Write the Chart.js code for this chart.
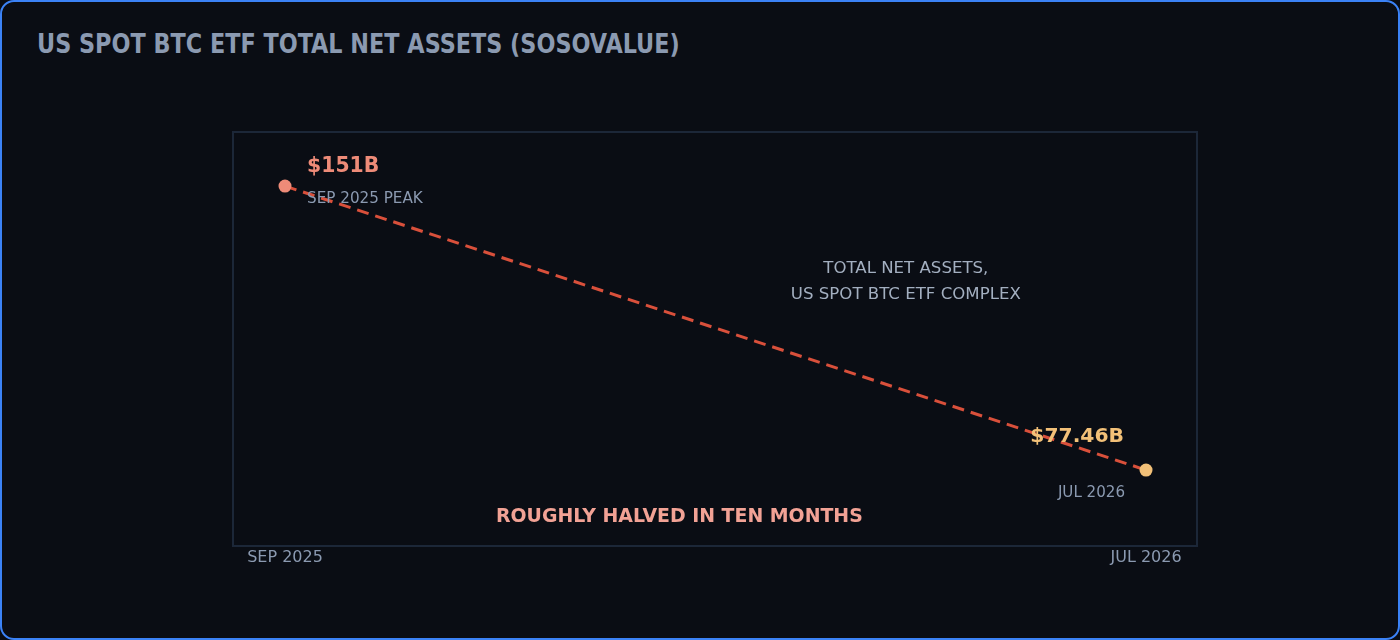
<!DOCTYPE html>
<html>
<head>
<meta charset="utf-8">
<script src="https://cdn.jsdelivr.net/npm/chart.js@4"></script>
<style>
  html, body { margin: 0; padding: 0; background: #0a0d14; }
  #frame {
    position: absolute; left: 0; top: 0; width: 1400px; height: 640px;
    box-sizing: border-box; border: 2px solid #3b82f6; border-radius: 14px;
    background: #0a0d14;
  }
  #title {
    position: absolute; left: 37px; top: 28px; margin: 0;
    font-family: "DejaVu Sans Condensed", sans-serif;
    font-weight: bold; font-size: 27px; color: #8b9ab1;
    transform: scaleX(0.92); transform-origin: left center; white-space: nowrap;
  }
  #myChart { position: absolute; left: 0; top: 0; }
</style>
</head>
<body>
<div id="frame"></div>
<h1 id="title">US SPOT BTC ETF TOTAL NET ASSETS (SOSOVALUE)</h1>
<canvas id="myChart" width="1400" height="640"></canvas>
<script>
// months since Sep 2025
const months = [0, 10];
const tickLabels = {0: "SEP 2025", 10: "JUL 2026"};
const netAssets = [151, 77.46];
const valueLabels = ["$151B", "$77.46B"];
const pointNotes = ["SEP 2025 PEAK", "JUL 2026"];
const seriesNote = ["TOTAL NET ASSETS,", "US SPOT BTC ETF COMPLEX"];
const headline = "ROUGHLY HALVED IN TEN MONTHS";

const dejavu = '"DejaVu Sans", sans-serif';

const annotations = {
  id: "annotations",
  afterDatasetsDraw(chart) {
    const ctx = chart.ctx;
    const x = chart.scales.x, y = chart.scales.y;
    const a = chart.chartArea;
    ctx.save();
    // plot frame
    ctx.strokeStyle = "#1c2738";
    ctx.lineWidth = 2;
    ctx.strokeRect(a.left, a.top, a.right - a.left, a.bottom - a.top);

    const x0 = x.getPixelForValue(months[0]), y0 = y.getPixelForValue(netAssets[0]);
    const x1 = x.getPixelForValue(months[1]), y1 = y.getPixelForValue(netAssets[1]);

    ctx.textBaseline = "middle";
    ctx.textAlign = "left";
    ctx.font = "bold 20.4px " + dejavu;
    ctx.fillStyle = "#ee8b78";
    ctx.fillText(valueLabels[0], x0 + 22, y0 - 19);
    ctx.font = "15.2px " + dejavu;
    ctx.fillStyle = "#8b9ab1";
    ctx.fillText(pointNotes[0], x0 + 22, y0 + 13);

    ctx.textAlign = "right";
    ctx.font = "bold 20.3px " + dejavu;
    ctx.fillStyle = "#f2c078";
    ctx.fillText(valueLabels[1], x1 - 22, y1 - 33);
    ctx.font = "15.1px " + dejavu;
    ctx.fillStyle = "#8b9ab1";
    ctx.fillText(pointNotes[1], x1 - 21, y1 + 23);

    ctx.textAlign = "center";
    ctx.font = "16.6px " + dejavu;
    ctx.fillStyle = "#a3afc0";
    const mx = x.getPixelForValue(7.21);
    ctx.fillText(seriesNote[0], mx, y.getPixelForValue(129.7));
    ctx.fillText(seriesNote[1], mx, y.getPixelForValue(123.0));

    ctx.font = "bold 18.9px " + dejavu;
    ctx.fillStyle = "#f2a295";
    ctx.fillText(headline, x.getPixelForValue(4.58), a.bottom - 29);
    ctx.restore();
  }
};

new Chart("myChart", {
  type: "line",
  data: {
    datasets: [{
      data: months.map((m, i) => ({x: m, y: netAssets[i]})),
      borderColor: "#d9503b",
      borderWidth: 3,
      borderDash: [12, 7],
      pointRadius: 6.5,
      pointHoverRadius: 6.5,
      pointBorderWidth: 0,
      pointBackgroundColor: ["#ee8b78", "#f2c078"],
      fill: false
    }]
  },
  options: {
    responsive: false,
    animation: false,
    devicePixelRatio: 1,
    layout: {padding: {left: 233, right: 203, top: 132, bottom: 54}},
    plugins: {legend: {display: false}, tooltip: {enabled: false}},
    scales: {
      x: {
        type: "linear",
        min: -0.604,
        max: 10.592,
        grid: {display: false, drawTicks: false},
        border: {display: false},
        afterBuildTicks: s => { s.ticks = months.map(v => ({value: v})); },
        afterFit: s => { s.height = 40; },
        ticks: {
          color: "#8b9ab1",
          font: {family: "DejaVu Sans", size: 16},
          padding: 2,
          maxRotation: 0,
          autoSkip: false,
          callback: v => tickLabels[v]
        }
      },
      y: {
        display: false,
        min: 57.8,
        max: 165
      }
    }
  },
  plugins: [annotations]
});
</script>
</body>
</html>
